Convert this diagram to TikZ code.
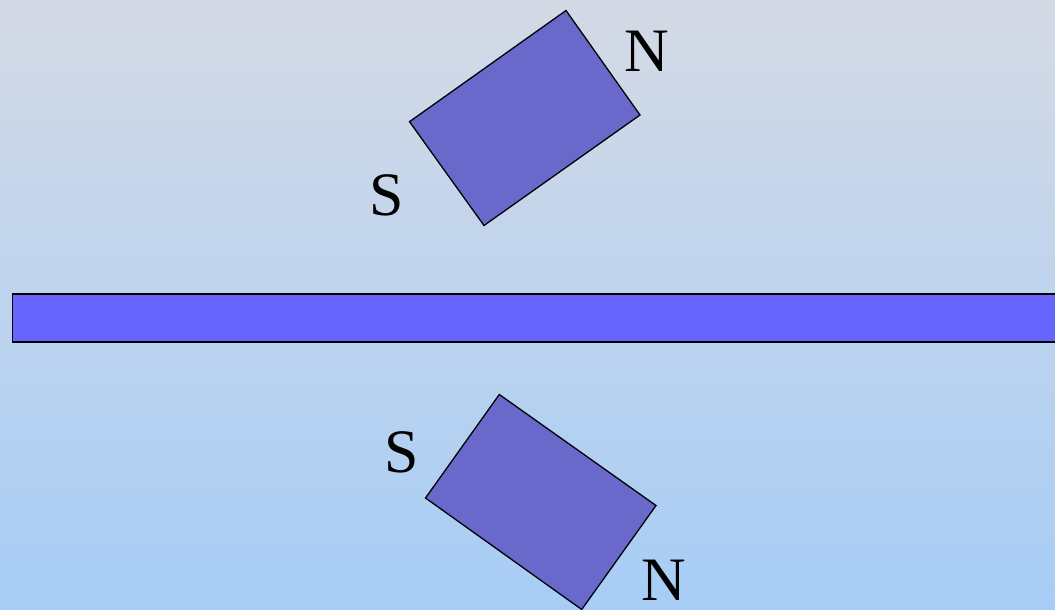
\documentclass[tikz,border=0pt]{standalone}
\usepackage{fontspec}
\setmainfont{Liberation Serif}
\definecolor{bgtop}{RGB}{212,218,229}
\definecolor{bgbot}{RGB}{167,205,246}
\definecolor{magfill}{RGB}{105,105,204}
\definecolor{barfill}{RGB}{102,102,255}
\begin{document}
\begin{tikzpicture}[x=1bp,y=-1bp,
  magnet/.style={fill=magfill,draw=black,line width=1.3bp,line join=miter},
  pole/.style={anchor=base,font=\fontsize{62}{62}\selectfont,inner sep=0pt,outer sep=0pt}]
\shade[top color=bgtop,bottom color=bgbot] (0,0) rectangle (1055,610);
\useasboundingbox (0,0) rectangle (1055,610);
% top magnet
\draw[magnet] (409.5,121.7) -- (566,10.5) -- (640,115) -- (484,225.5) -- cycle;
\node[pole] (n1) at (646.5,72) {N};
\node[pole] (s1) at (387,216) {S};
% bar
\draw[fill=barfill,draw=black,line width=1.3bp] (12.5,294) rectangle (1060,342);
% bottom magnet
\draw[magnet] (499.3,394.5) -- (656,505.5) -- (581.7,609.5) -- (425.5,498) -- cycle;
\node[pole] (s2) at (402,472) {S};
\node[pole] (n2) at (663.5,600) {N};
\end{tikzpicture}
\end{document}
